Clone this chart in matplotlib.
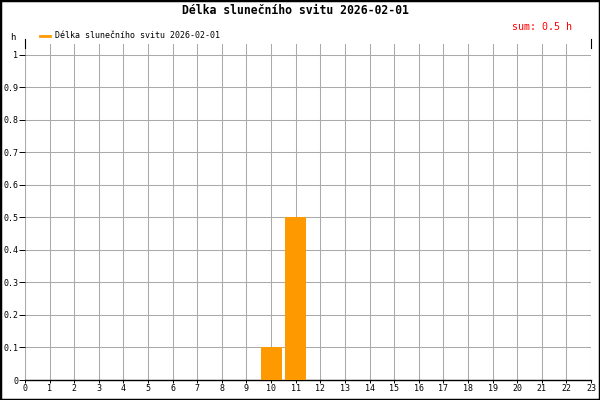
import numpy as np
import matplotlib
matplotlib.use("Agg")
import matplotlib.pyplot as plt
import matplotlib.transforms as mtransforms
from matplotlib.patches import Rectangle

# data
hours = list(range(24))
sunshine = [0, 0, 0, 0, 0, 0, 0, 0, 0, 0, 0.1, 0.5,
            0, 0, 0, 0, 0, 0, 0, 0, 0, 0, 0, 0]
title = "Délka slunečního svitu 2026-02-01"
total = 0.5
yticks = [0, 0.1, 0.2, 0.3, 0.4, 0.5, 0.6, 0.7, 0.8, 0.9, 1]

plt.rcParams['font.family'] = ['DejaVu Sans Mono']

fig = plt.figure(figsize=(6, 4), dpi=100)
ax = fig.add_axes([25 / 600, 20 / 400, (591 - 25) / 600, (380 - 44) / 400])

# skip zero-valued hours, they would not show anyway
h = np.array(hours)
v = np.array(sunshine)
mask = v > 0
ax.bar(h[mask], v[mask], width=0.85, color='#ff9900', zorder=3)

ax.set_xlim(0, 23)
ax.set_ylim(0, 1.033)
ax.set_xticks(range(24))
ax.set_xticklabels([str(i) for i in range(24)], fontsize=6)
ax.set_yticks(yticks)
ax.set_yticklabels(['0' if t == 0 else ('1' if t == 1 else f'{t:.1f}') for t in yticks], fontsize=6)

# nudge x labels a little to the right, like the original
shift = mtransforms.ScaledTranslation(2 / 100, 0, fig.dpi_scale_trans)
for lbl in ax.get_xticklabels():
    lbl.set_transform(lbl.get_transform() + shift)

ax.tick_params(axis='x', length=2, width=0.7, pad=1, color='black')
ax.tick_params(axis='y', length=4, width=0.7, pad=1, color='black')
ax.grid(True, color='#aaaaaa', linewidth=0.75, zorder=0)
ax.set_axisbelow(True)
for s in ['top', 'right', 'left']:
    ax.spines[s].set_visible(False)
ax.spines['bottom'].set_color('black')
ax.spines['bottom'].set_linewidth(1.0)
ax.axvline(0, color='#aaaaaa', linewidth=0.75, zorder=0)

# small black stubs at the top corners of the grid
for xx in (0, 23):
    ax.plot([xx, xx], [1.02, 1.047], color='black', linewidth=0.8, clip_on=False)

fig.text(295 / 600, 1 - 11 / 400, title, ha='center', va='center',
         fontsize=8.3, fontweight='bold')
fig.text(572 / 600, 1 - 27 / 400, f'sum: {total} h', ha='right', va='center',
         fontsize=7.2, color='red')
fig.text(13 / 600, 1 - 38 / 400, 'h', ha='center', va='center', fontsize=6.5)

fig.lines.append(plt.Line2D([40 / 600, 50 / 600], [1 - 36 / 400, 1 - 36 / 400],
                            transform=fig.transFigure, color='#ff9900', linewidth=2))
fig.text(55 / 600, 1 - 36 / 400, title, ha='left', va='center', fontsize=6)

fig.patches.append(Rectangle((0, 0), 1, 1, transform=fig.transFigure, fill=False,
                             edgecolor='black', linewidth=2.5))

fig.savefig('out.png', dpi=100)
